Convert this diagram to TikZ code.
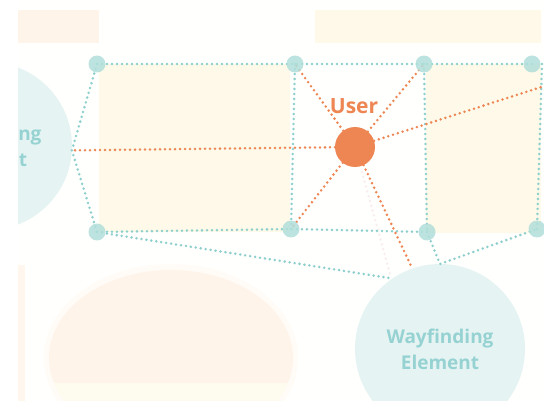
\documentclass[tikz,border=0pt]{standalone}
\usepackage{fontspec}
\setmainfont{Open Sans}
\begin{document}
\begin{tikzpicture}[x=1pt,y=-1pt,
  every node/.style={inner sep=0pt, outer sep=0pt},
  hub/.style={circle, minimum size=17pt, fill=hubfill, fill opacity=0.85},
  teallink/.style={draw=tealdot, line width=2.8pt, line cap=round, dash pattern=on 0pt off 5pt},
  userlink/.style={draw=userorange, line width=2.8pt, line cap=round, dash pattern=on 0pt off 5pt},
  ghostlink/.style={draw=ghostpink, line width=2.8pt, line cap=round, dash pattern=on 0pt off 5pt},
  wayfinder/.style={circle, fill=wayfill, text=waytext, font=\bfseries\fontsize{19}{26}\selectfont, align=center}
]
\definecolor{tealdot}{RGB}{140,207,205}
\definecolor{hubfill}{RGB}{178,223,219}
\definecolor{userorange}{RGB}{238,134,84}
\definecolor{wayfill}{RGB}{229,244,243}
\definecolor{waytext}{RGB}{150,210,210}
\definecolor{blockyellow}{RGB}{254,249,232}
\definecolor{blockorange}{RGB}{255,244,233}
\definecolor{ghostpink}{RGB}{249,238,237}
\definecolor{paper}{RGB}{255,255,253}

\useasboundingbox (0,0) rectangle (544,401);
\fill[white] (0,0) rectangle (544,401);
\clip (18,0) rectangle (544,401);
\fill[paper] (18,0) rectangle (544,401);

% background blocks
\fill[blockorange] (18,10) rectangle (99,43);
\fill[blockyellow] (315,10) rectangle (541,43);
\fill[blockyellow] (99,64) rectangle (290,232);
\fill[blockyellow] (426,64) rectangle (541,233);
\fill[blockorange!80!white] (18,265) rectangle (25,401);

% plaza ellipse with a soft rim and a lighter band at the bottom
\fill[blockorange!35!white] (171,358) ellipse [x radius=127, y radius=94];
\begin{scope}
  \clip (171,358) ellipse [x radius=122, y radius=88];
  \fill[blockorange] (40,260) rectangle (300,383);
  \fill[blockyellow!70!white] (40,383) rectangle (300,401);
\end{scope}

% wayfinding elements
\node[wayfinder, minimum size=168pt] (LW) at (-12,146) {Wayfinding\\Element};
\node[wayfinder, minimum size=170pt] (BW) at (440,349) {Wayfinding\\Element};

% network hubs
\coordinate (A) at (97,64);
\coordinate (B) at (295,64);
\coordinate (C) at (424,64);
\coordinate (D) at (532,64);
\coordinate (E) at (97,232);
\coordinate (F) at (291,229);
\coordinate (G) at (427,232);
\coordinate (H) at (537,229);
\coordinate (L) at (LW.-3);
\coordinate (DR) at (542,64);
\coordinate (OR) at (560,81);
\coordinate (P) at (BW.124);
\coordinate (Q) at (BW.90);
\coordinate (R) at (BW.109);
\coordinate (U) at (355,147);

% faint trail
\draw[ghostlink] (362,172) -- (390,274);

% teal street network
\draw[teallink] (A) -- (B) -- (C) -- (D);
\draw[teallink] (A) -- (L) -- (E);
\draw[teallink] (E) -- (F) -- (G);
\draw[teallink] (E) -- (P);
\draw[teallink] (G) -- (Q) -- (H);
\draw[teallink] (B) -- (F);
\draw[teallink] (C) -- (G);
\draw[teallink] (DR) -- (H);

% sight lines from the user
\draw[userlink] (U) -- (L);
\draw[userlink] (U) -- (B);
\draw[userlink] (U) -- (C);
\draw[userlink] (U) -- (OR);
\draw[userlink] (U) -- (F);
\draw[userlink] (U) -- (R);

% hub markers
\foreach \h in {A,B,C,D,E,F,G,H} \node[hub] (n\h) at (\h) {};

% user
\node[circle, fill=userorange, minimum size=40pt] (user) at (U) {};
\node[text=userorange, font=\bfseries\fontsize{21}{24}\selectfont] (userlabel) at (354,106) {User};
\end{tikzpicture}
\end{document}
